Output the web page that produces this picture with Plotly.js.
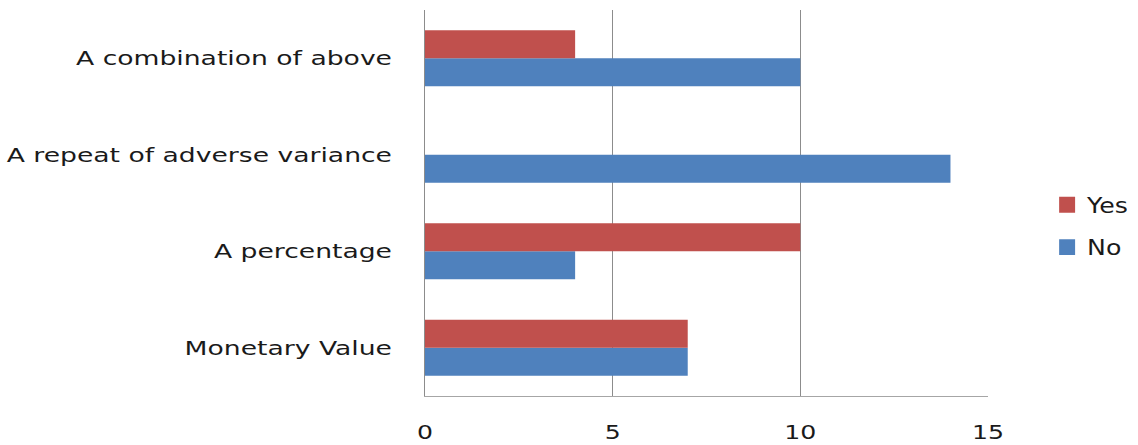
<!DOCTYPE html>
<html>
<head>
<meta charset="utf-8">
<script src="https://cdn.plot.ly/plotly-3.0.1.min.js"></script>
<style>html,body{margin:0;padding:0;background:#fff;}#chart{width:1138px;height:445px;}</style>
</head>
<body>
<div id="chart"></div>
<script>
const categories = ["Monetary Value", "A percentage", "A repeat of adverse variance", "A combination of above"];
const yesValues = [7, 10, 0, 4];
const noValues = [7, 4, 14, 10];
const xTicks = [0, 5, 10, 15];

const fontFam = "DejaVu Sans, sans-serif";
const data = [
  {type: "bar", orientation: "h", name: "No", legendgroup: "no", legendrank: 2, y: categories, x: noValues,
   marker: {color: "#4F81BD"}},
  {type: "bar", orientation: "h", name: "Yes", legendgroup: "yes", legendrank: 1, y: categories, x: yesValues,
   marker: {color: "#C0504D"}}
];
const layout = {
  width: 1138, height: 445,
  margin: {l: 425, r: 150, t: 10, b: 49},
  paper_bgcolor: "#fff", plot_bgcolor: "#fff",
  barmode: "group", bargap: 0.42, bargroupgap: 0,
  showlegend: true,
  legend: {x: 1.105, xanchor: "left", y: 0.44, yanchor: "middle",
           font: {family: fontFam, size: 21, color: "#1a1a1a"},
           traceorder: "grouped", itemwidth: 30, tracegroupgap: 12},
  font: {family: fontFam, size: 20, color: "#1a1a1a"},
  xaxis: {range: [0, 15], tickvals: xTicks, ticktext: xTicks.map(String),
          showgrid: true, gridcolor: "#8c8c8c", gridwidth: 1,
          zeroline: false, showline: true, linecolor: "#a6a6a6", linewidth: 1,
          ticks: "", ticklabelstandoff: 18, fixedrange: true,
          tickfont: {family: fontFam, size: 20, color: "#1a1a1a"}},
  yaxis: {type: "category", categoryorder: "array", categoryarray: categories,
          showgrid: false, zeroline: false, showline: true, linecolor: "#8c8c8c", linewidth: 1,
          ticks: "", ticklabelstandoff: 28,
          tickfont: {family: fontFam, size: 20, color: "#1a1a1a"}}
};
Plotly.newPlot("chart", data, layout, {displayModeBar: false, staticPlot: true}).then(function (gd) {
  // widen glyphs horizontally to match the reference's stretched lettering
  function stretch(sel, k) {
    gd.querySelectorAll(sel).forEach(function (t) {
      const w = t.getComputedTextLength();
      t.setAttribute("lengthAdjust", "spacingAndGlyphs");
      t.setAttribute("textLength", (w * k).toFixed(1));
    });
  }
  stretch(".ytick text", 1.33);
  stretch(".xtick text", 1.26);
  stretch(".legendtext", 1.2);
  gd.querySelectorAll(".legendpoints path").forEach(function (p) {
    const tr = p.getAttribute("transform") || "";
    p.setAttribute("transform", tr + " scale(1.33)");
  });
});
</script>
</body>
</html>
